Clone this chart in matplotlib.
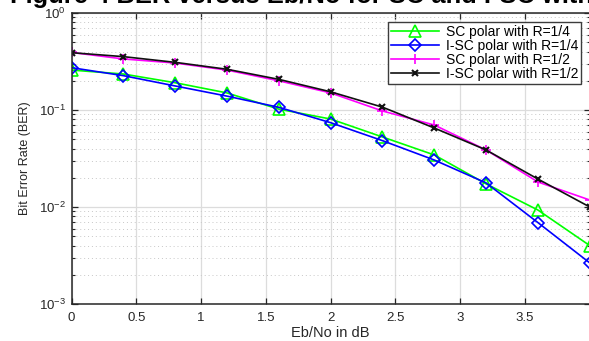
import matplotlib
matplotlib.use("Agg")
import matplotlib.pyplot as plt
from matplotlib.ticker import LogLocator, FixedLocator, NullFormatter

plt.rcParams['font.family'] = ['Liberation Sans', 'DejaVu Sans']
plt.rcParams['mathtext.fontset'] = 'custom'
plt.rcParams['mathtext.rm'] = 'Liberation Sans'
plt.rcParams['mathtext.default'] = 'regular'

# Eb/No sweep (dB)
ebno = [0.0, 0.4, 0.8, 1.2, 1.6, 2.0, 2.4, 2.8, 3.2, 3.6, 4.0]

# BER curves
ber_sc_r14 = [0.258, 0.235, 0.191, 0.150, 0.102, 0.0807, 0.0527, 0.0344, 0.0173, 0.0093, 0.0040]
ber_isc_r14 = [0.273, 0.226, 0.177, 0.139, 0.1066, 0.074, 0.0483, 0.0305, 0.0177, 0.0069, 0.00265]
ber_sc_r12 = [0.392, 0.336, 0.305, 0.258, 0.200, 0.150, 0.0977, 0.070, 0.0387, 0.0181, 0.0118]
ber_isc_r12 = [0.390, 0.355, 0.310, 0.263, 0.207, 0.154, 0.107, 0.0652, 0.0387, 0.0194, 0.0100]

labels = ['SC polar with R=1/4', 'I-SC polar with R=1/4',
          'SC polar with R=1/2', 'I-SC polar with R=1/2']

xticks = [0, 0.5, 1, 1.5, 2, 2.5, 3, 3.5]
xtick_labels = ['0', '0.5', '1', '1.5', '2', '2.5', '3', '3.5']

W, H = 589, 341
fig = plt.figure(figsize=(W / 100, H / 100), dpi=100)
ax = fig.add_axes([71.5 / W, 1 - 304 / H, (589.8 - 71.5) / W, (304 - 13) / H])

axis_col = '#262626'

ax.plot(ebno, ber_sc_r14, color='#00ff00', lw=1.2, marker='^', ms=8,
        mfc='none', mec='#00ff00', mew=1.2, label=labels[0])
ax.plot(ebno, ber_isc_r14, color='#0000ff', lw=1.2, marker='D', ms=6,
        mfc='none', mec='#0000ff', mew=1.2, label=labels[1])
ax.plot(ebno, ber_sc_r12, color='#ff00ff', lw=1.2, marker='+', ms=7,
        mew=1.2, label=labels[2])
ax.plot(ebno, ber_isc_r12, color='#111111', lw=1.2, marker='x', ms=5,
        mew=1.5, label=labels[3])

ax.set_yscale('log')
ax.set_ylim(1e-3, 1)
ax.set_xlim(0, 4)
ax.xaxis.set_major_locator(FixedLocator(xticks))
ax.set_xticklabels(xtick_labels)
ax.yaxis.set_major_locator(LogLocator(base=10, numticks=10))
ax.yaxis.set_minor_locator(LogLocator(base=10, subs=range(2, 10), numticks=20))
ax.yaxis.set_minor_formatter(NullFormatter())

ax.grid(True, which='major', color='#dcdcdc', lw=0.9, ls='-')
ax.grid(True, which='minor', axis='y', color='#c8c8c8', lw=0.7, ls=(0, (1, 3)))
ax.set_axisbelow(True)

ax.tick_params(which='both', direction='in', top=True, right=True,
               colors=axis_col, labelsize=9.5)
ax.tick_params(which='major', length=4.5, width=0.9)
ax.tick_params(which='minor', length=2.5, width=0.8)
ax.tick_params(axis='x', pad=5.5)
ax.tick_params(axis='y', pad=4)
for sp in ax.spines.values():
    sp.set_color(axis_col)
    sp.set_linewidth(1.1)

ax.set_xlabel('Eb/No in dB', fontsize=10.5, color=axis_col, labelpad=1.5)
ax.set_ylabel('Bit Error Rate (BER)', fontsize=9, color=axis_col, labelpad=6)

leg = ax.legend(loc='upper right', bbox_to_anchor=(581 / W, 1 - 22 / H),
                bbox_transform=fig.transFigure, borderaxespad=0,
                fontsize=10, labelspacing=0.0, borderpad=0.2,
                handlelength=3.5, handletextpad=0.45, numpoints=1,
                fancybox=False, framealpha=1, edgecolor='#3c3c3c')
leg.get_frame().set_linewidth(1.0)

fig.text(10 / W, 1 - 3 / H,
         'Figure 4 BER versus Eb/No for SC and I-SC with R=1/4 and R=1/2',
         fontsize=18.4, fontweight='bold', ha='left', va='baseline', color='black')

fig.savefig('out.png', dpi=100)
